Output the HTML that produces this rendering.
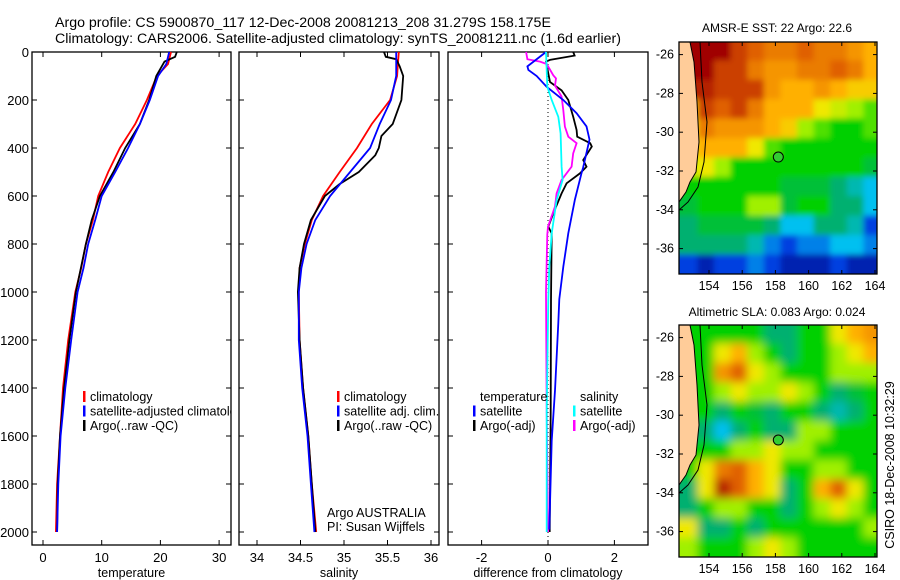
<!DOCTYPE html>
<html><head><meta charset="utf-8"><style>
body{margin:0;background:#fff}
svg{display:block;font-family:"Liberation Sans",sans-serif}
</style></head><body>
<svg id="fig" width="900" height="580" viewBox="0 0 900 580" xmlns="http://www.w3.org/2000/svg">
<defs>
<filter id="blurS" x="-5%" y="-5%" width="110%" height="110%"><feGaussianBlur stdDeviation="3"/></filter>
<filter id="blurL" x="-5%" y="-5%" width="110%" height="110%"><feGaussianBlur stdDeviation="4.5"/></filter>
<clipPath id="clipT"><rect x="32" y="52" width="199" height="493"/></clipPath>
<clipPath id="clipM1"><rect x="679" y="42" width="198" height="232"/></clipPath>
<clipPath id="clipM2"><rect x="679" y="325" width="198" height="232"/></clipPath>
</defs>
<text x="55" y="27" font-size="14.2">Argo profile: CS 5900870_117 12-Dec-2008 20081213_208 31.279S 158.175E</text>
<text x="55" y="43" font-size="14.2">Climatology: CARS2006. Satellite-adjusted climatology: synTS_20081211.nc (1.6d earlier)</text>
<text x="777" y="32" font-size="12" text-anchor="middle">AMSR-E SST: 22 Argo: 22.6</text>
<text x="777" y="316" font-size="12" text-anchor="middle">Altimetric SLA: 0.083 Argo: 0.024</text>
<text transform="translate(894,465) rotate(-90)" font-size="12.5" text-anchor="middle">CSIRO 18-Dec-2008 10:32:29</text>
<text x="327" y="517" font-size="12.5">Argo AUSTRALIA</text>
<text x="327" y="531" font-size="12.5">PI: Susan Wijffels</text>
</svg>
<script>
// ---------- data ----------
const depthTicks=[0,200,400,600,800,1000,1200,1400,1600,1800,2000];
const tempTicks=[0,10,20,30];
const salTicks=[34,34.5,35,35.5,36];
const salTickLabels=["34","34.5","35","35.5","36"];
const diffTicks=[-2,0,2];
const mapLonTicks=[154,156,158,160,162,164];
const mapLatTicks=[-26,-28,-30,-32,-34,-36];

const stdDepths=[0,50,100,200,300,400,500,600,700,800,900,1000,1200,1400,1600,1800,2000];
const tempClim=[21.8,21.3,19.4,17.7,15.7,13.1,11.1,9.4,8.5,7.3,6.5,5.5,4.3,3.4,2.9,2.4,2.2];
const tempSat=[21.5,21.0,19.6,18.2,16.5,14.5,12.3,10.0,8.9,7.7,6.9,5.9,4.8,3.8,3.0,2.6,2.4];
const argoTempDepths=[0,20,40,100,200,300,400,500,600,700,800,1000,1200,1400,1600,1800,2000];
const argoTemp=[22.8,22.5,20.7,19.3,18.1,16.5,14.0,12.0,9.7,8.3,7.3,5.6,4.5,3.6,2.9,2.5,2.4];

const salClim=[35.63,35.62,35.61,35.53,35.32,35.15,34.95,34.76,34.63,34.55,34.49,34.48,34.49,34.53,34.59,34.63,34.68];
const salSat=[35.60,35.60,35.60,35.54,35.41,35.30,35.07,34.84,34.67,34.57,34.51,34.48,34.48,34.52,34.58,34.62,34.66];
const argoSalDepths=[0,20,30,60,100,200,300,350,400,430,500,550,600,700,800,900,1000,1200,1400,1600,1800,2000];
const argoSal=[35.46,35.48,35.60,35.64,35.68,35.66,35.56,35.43,35.40,35.36,35.17,34.95,34.78,34.62,34.54,34.49,34.47,34.49,34.53,34.59,34.63,34.67];

const dTempSatDepths=[0,60,75,100,145,200,255,310,365,420,480,505,615,755,895,1030,1130,1410,1620,1990];
const dTempSat=[-0.06,-0.62,-0.59,-0.34,-0.04,0.46,0.86,1.16,1.25,1.16,1.06,1.01,0.81,0.61,0.46,0.34,0.31,0.21,0.11,0.04];
const dTempArgoDepths=[0,15,33,40,125,160,200,270,325,353,380,394,450,478,506,547,589,672,728,756,1033,1500,2000];
const dTempArgo=[0.76,0.80,0.06,-0.06,0.06,0.41,0.61,0.76,0.86,0.88,1.27,1.32,1.06,1.16,0.96,0.56,0.41,0.16,0.01,0.11,0.09,0.08,0.05];
const dSalSatDepths=[0,144,200,270,339,478,533,617,756,894,1033,1500,2000];
const dSalSat=[-0.06,-0.02,0.11,0.31,0.38,0.41,0.44,0.26,0.11,0.04,0.01,-0.04,-0.04];
const dSalArgoDepths=[0,30,40,50,97,110,140,186,242,311,353,380,422,478,533,589,644,728,760,1000,1500,2000];
const dSalArgo=[-0.66,-0.62,-0.24,-0.04,0.16,0.24,0.21,0.41,0.46,0.51,0.61,0.86,0.76,0.71,0.41,0.26,0.21,0.0,-0.02,-0.06,-0.04,0.0];

// map grids: 12x12 one-degree cells, lon 152.3..164.3, lat -25.3..-37.3; null = land
const sstGrid=[
[null,10,10,9,8.5,8,8,8.5,8,8,7.5,7],
[null,10,9,9,8,7.5,7.5,8,8,8.5,8,7],
[null,9.5,9,9,9,7.5,7,7,7.5,7,6.5,6.5],
[6.5,9,8.5,9,8,7,7,7,6,5.5,5,4.5],
[6,8,7.5,7.5,7.5,7,6.5,5,4.5,4,4,4.5],
[6,7,7,7,6,4.5,4,4,4,4,4,4],
[5.5,6,5,4,4,4,4,4,4,4,4,3.5],
[4,4,4,4,4,4,3.5,3.5,3.5,3,2.5,2],
[3.5,4,4,4,5,5,3.5,4,4,3,3,2],
[3,3.5,3.5,3.5,3.5,3,2,2,3,3,2.5,1],
[3,3,3,3,2.5,1.5,1,1.5,1.5,2,2,1.5],
[1,0.5,1,1,1.5,1,0.5,0.5,0.5,1,0.5,0.5]];
const slaGrid=[
[null,4,4,4,4,3,3,4,4,6,7,7.5],
[null,4,6,7,5,4,3,4,4,5,6,7],
[null,4,7.5,8.5,6,5,4,4,4,5,5,5],
[null,4,5,6,5,5,6,5,4,3,3.5,4],
[null,4,3,4,3.5,3,4,4,3,2.5,3,4],
[null,3,2,3,4,3,3,5,5,4,4,4],
[null,4,4,5,5,6,5,5,4,4,4,4],
[4,6,8,8.5,7,6,4,4,5,5,4,4],
[3,6,9.5,8.5,7,6,3,4,7,8.5,6,4],
[3,4,5,5,4,4,3,4,5,6,5,4],
[6,3,3,4,3,4,4,4,4,4,4,5],
[5,4,4,4,5,6,5,4,4,4,4,4]];
const argoLon=158.175, argoLat=-31.279;

// ---------- drawing ----------
const NS="http://www.w3.org/2000/svg";
const svg=document.getElementById('fig');
function mk(tag,attrs,parent){const e=document.createElementNS(NS,tag);for(const k in attrs)e.setAttribute(k,attrs[k]);(parent||svg).appendChild(e);return e;}
const yD=d=>52+d*0.24;

function panel(name,x0,x1,xs,xticks,xlabels,xtitle,showY){
  const g=mk('g',{});
  
  
  const fr=mk('rect',{x:x0,y:52,width:x1-x0,height:493,fill:'none',stroke:'#000','stroke-width':1.3},g);
  
  
  xticks.forEach((v,i)=>{const x=xs(v);
    mk('line',{x1:x,x2:x,y1:52,y2:57,stroke:'#000'},g);
    mk('line',{x1:x,x2:x,y1:545,y2:540,stroke:'#000'},g);
    const t=mk('text',{x:x,y:562,'font-size':13,'text-anchor':'middle'},g);t.textContent=xlabels[i];
    
    
  });
  depthTicks.forEach(d=>{const y=yD(d);
    mk('line',{x1:x0,x2:x0+5,y1:y,y2:y,stroke:'#000'},g);
    mk('line',{x1:x1,x2:x1-5,y1:y,y2:y,stroke:'#000'},g);
    if(showY){const t=mk('text',{x:x0-3,y:y+5,'font-size':13,'text-anchor':'end'},g);t.textContent=d;
      
      }
  });
  const tt=mk('text',{x:(x0+x1)/2,y:577,'font-size':12.5,'text-anchor':'middle'},g);tt.textContent=xtitle;
  
  
  return g;
}
function line(g,name,depths,vals,xs,color,w){
  const pts=depths.map((d,i)=>xs(vals[i]).toFixed(1)+','+yD(d).toFixed(1)).join(' ');
  const p=mk('polyline',{points:pts,fill:'none',stroke:color,'stroke-width':w||1.8},g);
  
  
}
function legend(g,x,y,items,name){
  items.forEach((it,i)=>{
    if(it[1]){mk('rect',{x:x,y:y+i*14.5-6,width:2.5,height:11,fill:it[1]},g);}
    const t=mk('text',{x:x+7,y:y+i*14.5+4,'font-size':12.5},g);t.textContent=it[0];
    
    
  });
}
// temperature
const xT=v=>43+v*5.87;
const gT=panel('temperature-panel',32,231,xT,tempTicks,tempTicks.map(String),'temperature',true);
line(gT,'temp-climatology-line',stdDepths,tempClim,xT,'#f00');
line(gT,'temp-argo-line',argoTempDepths,argoTemp,xT,'#000');
line(gT,'temp-satellite-line',stdDepths,tempSat,xT,'#00f');
const gTL=mk('g',{'clip-path':'url(#clipT)'},gT);
legend(gTL,83,397,[['climatology','#f00'],['satellite-adjusted climatology','#00f'],['Argo(..raw -QC)','#000']],'temp-legend');
// salinity
const xS=v=>257+(v-34)*87;
const gS=panel('salinity-panel',239,439,xS,salTicks,salTickLabels,'salinity',false);
line(gS,'sal-climatology-line',stdDepths,salClim,xS,'#f00');
line(gS,'sal-argo-line',argoSalDepths,argoSal,xS,'#000');
line(gS,'sal-satellite-line',stdDepths,salSat,xS,'#00f');
legend(gS,337,397,[['climatology','#f00'],['satellite adj. clim.','#00f'],['Argo(..raw -QC)','#000']],'sal-legend');
// difference
const xDf=v=>548+v*33.2;
const gD=panel('difference-panel',448,648,xDf,diffTicks,diffTicks.map(String),'difference from climatology',false);
mk('line',{x1:xDf(0),x2:xDf(0),y1:52,y2:545,stroke:'#000','stroke-dasharray':'1,3'},gD);
line(gD,'diff-temp-argo-line',dTempArgoDepths,dTempArgo,xDf,'#000');
line(gD,'diff-sal-argo-line',dSalArgoDepths,dSalArgo,xDf,'#f0f');
line(gD,'diff-temp-satellite-line',dTempSatDepths,dTempSat,xDf,'#00f');
line(gD,'diff-sal-satellite-line',dSalSatDepths,dSalSat,xDf,'#0ff');
legend(gD,473,397,[['temperature',null],['satellite','#00f'],['Argo(-adj)','#000']],'diff-temp-legend');
legend(gD,573,397,[['salinity',null],['satellite','#0ff'],['Argo(-adj)','#f0f']],'diff-sal-legend');

// maps
const cmapStops=[[0,[0,0,128]],[1,[0,64,224]],[2,[0,192,240]],[3,[0,176,112]],[4,[0,208,0]],[5,[160,240,0]],[6,[240,232,0]],[7,[255,176,0]],[8.5,[224,96,0]],[10,[160,0,0]]];
function cmap(v){for(let i=1;i<cmapStops.length;i++){if(v<=cmapStops[i][0]){const a=cmapStops[i-1],b=cmapStops[i],f=(v-a[0])/(b[0]-a[0]);
  return 'rgb('+a[1].map((c,k)=>Math.round(c+(b[1][k]-c)*f)).join(',')+')';}}return 'rgb(160,0,0)';}
function map(name,grid,top,clip,blur){
  const x0=679,x1=877,y0=top,y1=top+232;
  const lonX=l=>709+(l-154)*16.6;
  const latYf=l=>y0+12.6+(-26-l)*19.4;
  const g=mk('g',{});
  
  
  const cg=mk('g',{'clip-path':'url(#'+clip+')'},g);
  const bg=mk('g',{filter:'url(#'+blur+')'},cg);
  grid.forEach((row,r)=>row.forEach((v,c)=>{
    const lx=lonX(152.3+c), ly=latYf(-25.3-r);
    const vv=v===null?(row.find(q=>q!==null)):v;
    const w=(c===11)?30:17.2, h=(r===11)?30:20;
    const cell=mk('rect',{x:(c===0?lx-12:lx).toFixed(1),y:(r===0?ly-12:ly).toFixed(1),width:c===0?w+12:w,height:r===0?h+12:h,fill:cmap(vv)},bg);
    
    
  }));
  const land=mk('polygon',{points:`${x0},${y0} 690,${y0} 694,${y0+20} 697,${y0+60} 699,${y0+100} 696,${y0+130} 690,${y0+140} 686,${y0+150} 679,${y0+160}`,fill:'#fc9',stroke:'#000','stroke-width':1},cg);
  
  
  const iso=mk('polyline',{points:`700,${y0} 702,${y0+40} 707,${y0+80} 704,${y0+120} 698,${y0+145} 688,${y0+160} 679,${y0+168}`,fill:'none',stroke:'#000','stroke-width':1},cg);
  
  
  mk('rect',{x:x0,y:y0,width:x1-x0,height:y1-y0,fill:'none',stroke:'#000','stroke-width':1.3},g);
  mapLonTicks.forEach(l=>{const x=lonX(l);
    mk('line',{x1:x,x2:x,y1:y0,y2:y0+4,stroke:'#000'},g);mk('line',{x1:x,x2:x,y1:y1,y2:y1-4,stroke:'#000'},g);
    const t=mk('text',{x:x,y:y1+16,'font-size':12.5,'text-anchor':'middle'},g);t.textContent=l;
    
    });
  mapLatTicks.forEach(l=>{const y=latYf(l);
    mk('line',{x1:x0,x2:x0+4,y1:y,y2:y,stroke:'#000'},g);mk('line',{x1:x1,x2:x1-4,y1:y,y2:y,stroke:'#000'},g);
    const t=mk('text',{x:x0-5,y:y+4,'font-size':12.5,'text-anchor':'end'},g);t.textContent=l;
    
    });
  const m=mk('circle',{cx:lonX(argoLon),cy:latYf(argoLat),r:5,fill:'#3c3',stroke:'#000'},g);
  
  
}
map('sst-map',sstGrid,42,'clipM1','blurS');
map('sla-map',slaGrid,325,'clipM2','blurL');
</script>
</body></html>
